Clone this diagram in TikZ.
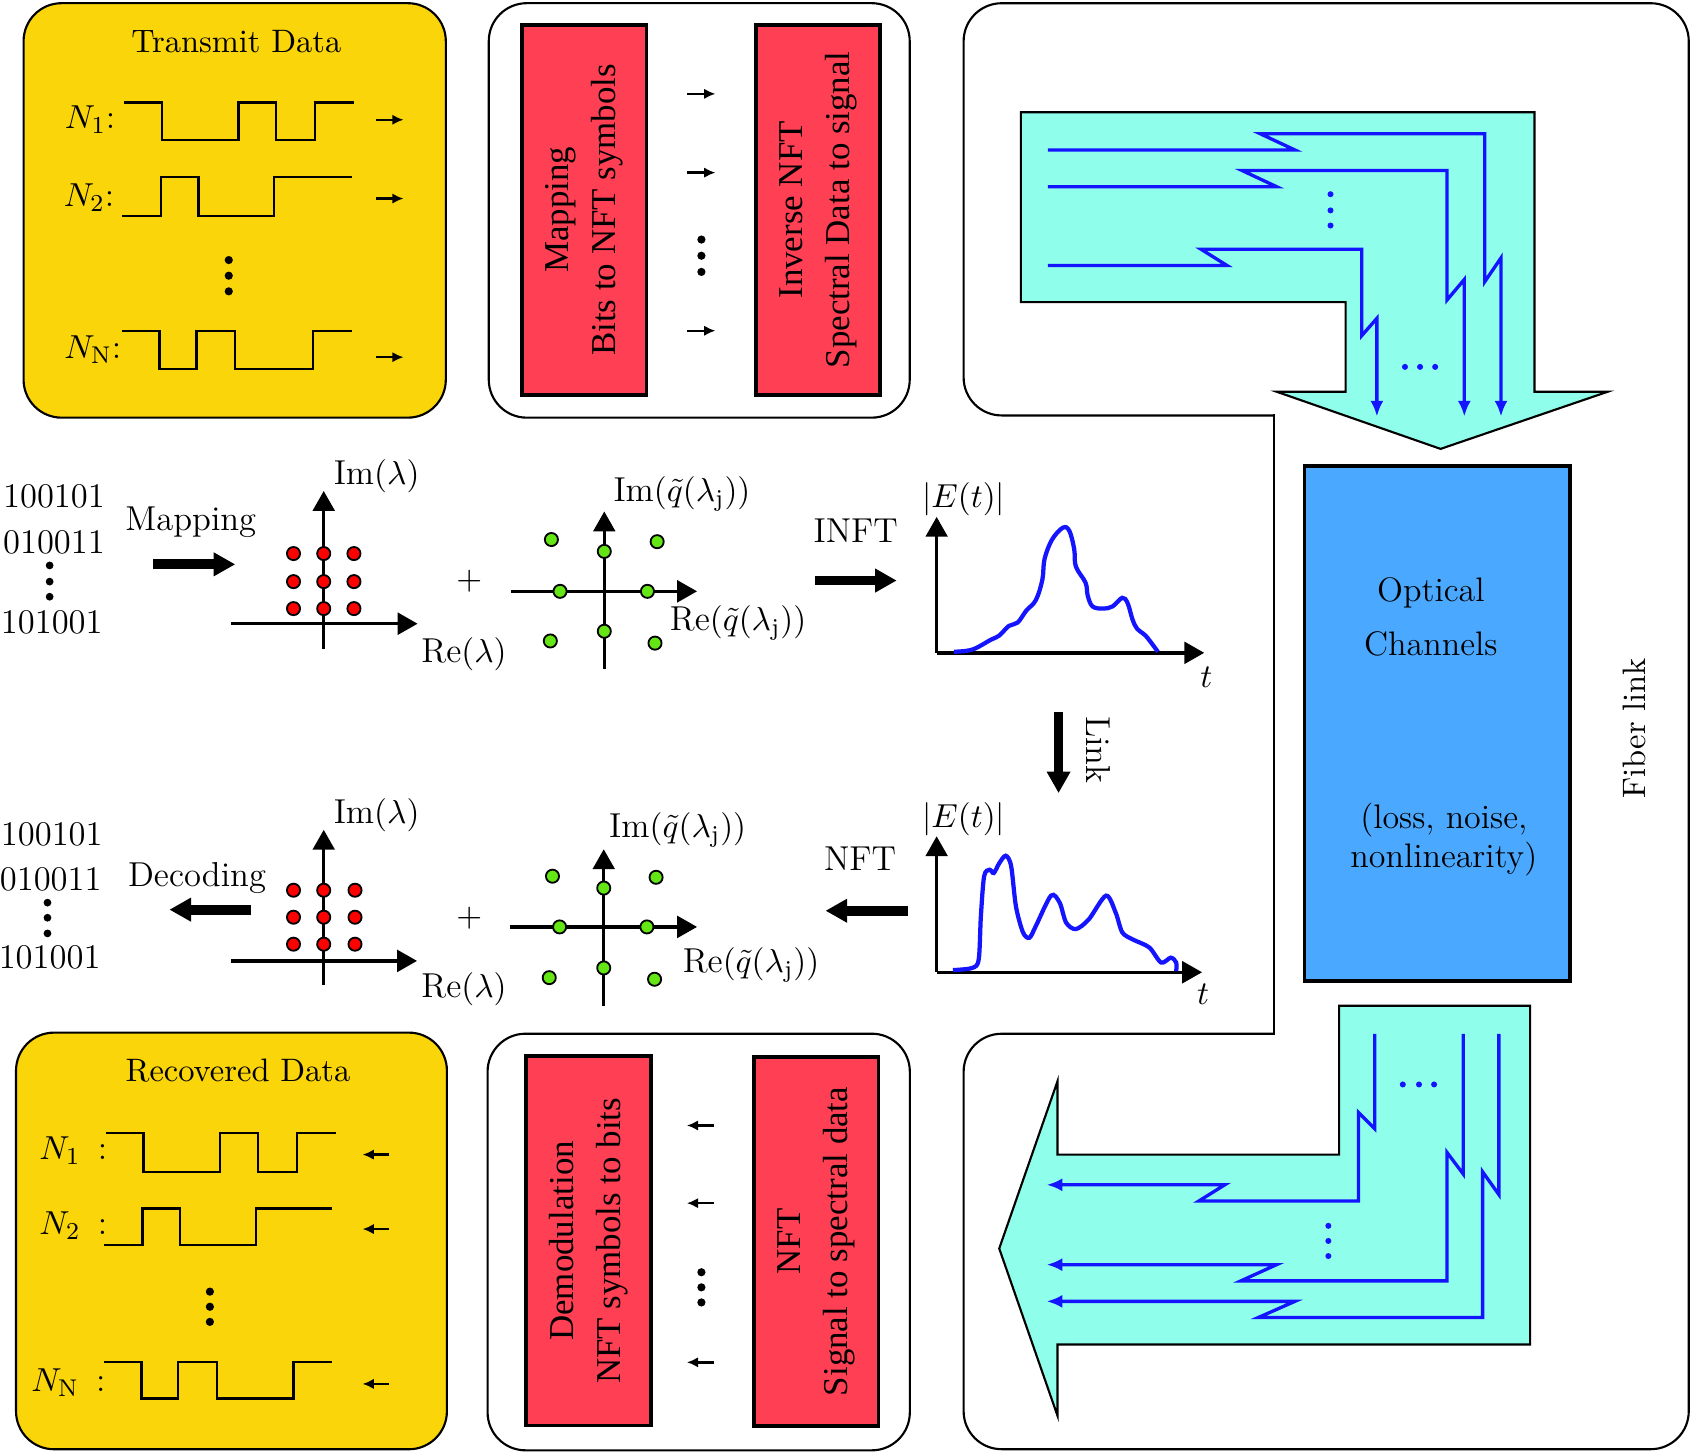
\documentclass[tikz,border=0pt]{standalone}
\usepackage{amsmath, amssymb}
\usepackage{fontspec}
\newfontfamily\timesfont{Liberation Serif}
\usetikzlibrary{arrows.meta,positioning}

\definecolor{gold}{RGB}{250,213,10}
\definecolor{nftred}{RGB}{255,64,84}
\definecolor{aqua}{RGB}{143,255,235}
\definecolor{chanblue}{RGB}{75,168,255}
\definecolor{symgreen}{RGB}{100,230,20}
\definecolor{wire}{RGB}{20,20,255}

\tikzset{
  databox/.style={draw, line width=0.7pt, fill=gold, rounded corners=0.44cm},
  stagebox/.style={draw, line width=0.7pt, fill=white, rounded corners=0.44cm},
  nftbox/.style={draw, line width=1.3pt, fill=nftred, rotate=90, align=center,
    minimum width=4.29cm, minimum height=1.44cm,
    font=\timesfont\fontsize{11.5}{15.5}\selectfont},
  lbl/.style={inner sep=1pt, font=\fontsize{11.4}{13.6}\selectfont},
  title/.style={inner sep=1pt, font=\fontsize{10.7}{12.8}\selectfont},
  wave/.style={line width=0.8pt},
  axis/.style={line width=1.1pt, -{Triangle[length=0.23cm,width=0.25cm]}},
  bigarrow/.style={line width=3.2pt, -{Triangle[length=0.25cm,width=0.26cm]}},
  tinyarrow/.style={line width=0.8pt, -{Latex[length=1.3mm,width=1.2mm]}},
  fiber/.style={draw=wire, line width=1.1pt, -{Latex[length=1.8mm,width=1.5mm]}},
  sym/.style={circle, draw, line width=0.6pt, inner sep=0pt, minimum size=0.152cm},
  pulse/.style={draw=wire, line width=1.4pt},
}

\begin{document}
\begin{tikzpicture}[x=0.0125cm, y=-0.0125cm]
  \useasboundingbox (0,0) rectangle (1568,1346.5);

  % transmitter
  \node (tx) [databox, minimum width=4.89cm, minimum height=4.8cm] at (217.5,195) {};
  \node (txt) [title] at (219,39) {Transmit Data};
  \node (tn1) [lbl] at (83.5,111) {$N_1$:};
  \node (tn2) [lbl] at (82.5,183) {$N_2$:};
  \node (tnn) [lbl] at (86,324) {$N_{\mathrm{N}}$:};
  \draw[wave] (115,95) -- (150,95) -- (150,130) -- (221,130) -- (221,95) -- (256,95)
    -- (256,130) -- (292,130) -- (292,95) -- (328,95);
  \draw[wave] (113,200) -- (149,200) -- (149,164) -- (184,164) -- (184,200) -- (254,200)
    -- (254,164) -- (326,164);
  \draw[wave] (113,307) -- (148,307) -- (148,342) -- (182,342) -- (182,307) -- (218,307)
    -- (218,342) -- (290,342) -- (290,307) -- (326,307);
  \foreach \y in {241,255.5,270} \fill (212,\y) circle (3.8);
  \foreach \y in {111,184,331} \draw[tinyarrow] (348,\y) -- (374,\y);

  \node (txs) [stagebox, minimum width=4.875cm, minimum height=4.8cm] at (648,195) {};
  \node (map) [nftbox] at (541.5,194.5) {Mapping\\Bits to NFT symbols};
  \node (inft) [nftbox] at (758,194.5) {Inverse NFT\\Spectral Data to signal};
  \foreach \y in {87,160,306.5} \draw[tinyarrow] (637,\y) -- (663,\y);
  \foreach \y in {222,237,252} \fill (650,\y) circle (3.8);

  % fiber link
  \draw[line width=0.7pt, rounded corners=0.44cm] (1181,385) -- (893,385) -- (893,3)
    -- (1565,3) -- (1565,1343) -- (893,1343) -- (893,958) -- (1181,958);
  \draw[line width=0.7pt, line cap=rect] (1181,385) -- (1181,958);

  \filldraw[fill=aqua, line width=0.7pt] (946,104) -- (1422,104) -- (1422,363) -- (1490,363)
    -- (1335,416) -- (1183,363) -- (1247,363) -- (1247,280) -- (946,280) -- cycle;
  \draw[fiber] (971,139) -- (1200,139) -- (1168,124) -- (1376,124) -- (1376,261)
    -- (1391,239) -- (1391,386);
  \draw[fiber] (971,173) -- (1183,173) -- (1151,158) -- (1341,158) -- (1341,278)
    -- (1357,259) -- (1357,386);
  \draw[fiber] (971,246) -- (1137,246) -- (1113,231) -- (1262,231) -- (1262,311)
    -- (1276,295) -- (1276,386);
  \foreach \y in {180,195,209} \fill[wire] (1233,\y) circle (2.8);
  \foreach \x in {1302,1316,1330} \fill[wire] (\x,340) circle (2.8);

  \node (chan) [draw, line width=1.2pt, fill=chanblue, minimum width=3.075cm,
    minimum height=5.96cm] at (1332,670.5) {};
  \node (chant) [lbl, align=center, font=\fontsize{11.2}{17.7}\selectfont] at (1326,572)
    {Optical\\Channels};
  \node (chanl) [lbl, align=center, font=\fontsize{11.2}{12.8}\selectfont] at (1338,778)
    {(loss, noise,\\nonlinearity)};
  \node (fib) [title, rotate=90] at (1515,675) {Fiber link};

  \filldraw[fill=aqua, line width=0.7pt] (1241,932) -- (1418,932) -- (1418,1246) -- (980,1246)
    -- (980,1312) -- (926,1157) -- (980,1002) -- (980,1070) -- (1241,1070) -- cycle;
  \draw[fiber] (1274,958) -- (1274,1046) -- (1259,1031) -- (1259,1113) -- (1111,1113)
    -- (1135,1098) -- (970,1098);
  \draw[fiber] (1356,958) -- (1356,1088) -- (1341,1068) -- (1341,1187) -- (1150,1187)
    -- (1183,1172) -- (970,1172);
  \draw[fiber] (1389,958) -- (1389,1107) -- (1374,1086) -- (1374,1221) -- (1166,1221)
    -- (1200,1206) -- (970,1206);
  \foreach \y in {1136,1150,1164} \fill[wire] (1231,\y) circle (2.8);
  \foreach \x in {1300,1315,1329} \fill[wire] (\x,1005) circle (2.8);

  % modulation
  \node (b1) [lbl] at (50,460) {100101};
  \node (b2) [lbl] at (50,503) {010011};
  \foreach \y in {524,539,553} \fill (46,\y) circle (3.6);
  \node (b3) [lbl] at (48,577) {101001};
  \coordinate (m1) at (142,523);
  \coordinate (m2) at (218,523);
  \draw[bigarrow] (m1) -- node[lbl, above=0.22cm, xshift=-0.04cm] {Mapping} (m2);

  \draw[axis] (214,578) -- (387,578);
  \draw[axis] (300,601) -- (300,455);
  \foreach \x in {272,300,328} \foreach \y in {513,539,564} \node[sym, fill=red] at (\x,\y) {};
  \node (im1) [lbl] at (349,441) {$\mathrm{Im}(\lambda)$};
  \node (re1) [lbl] at (430,606) {$\mathrm{Re}(\lambda)$};
  \node (plus1) [lbl] at (435,539) {$+$};

  \draw[axis] (474,548) -- (646,548);
  \draw[axis] (560,620) -- (560,474);
  \foreach \p in {(511,500),(609,502),(560,511),(519,548),(600,548),(560,585),(510,594),(607,596)}
    \node[sym, fill=symgreen] at \p {};
  \node (im2) [lbl] at (632,458) {$\mathrm{Im}(\tilde{q}(\lambda_{\mathrm{j}}))$};
  \node (re2) [lbl] at (684,577) {$\mathrm{Re}(\tilde{q}(\lambda_{\mathrm{j}}))$};

  \coordinate (i1) at (755,538);
  \coordinate (i2) at (831,538);
  \draw[bigarrow] (i1) -- node[lbl, above=0.35cm] {INFT} (i2);

  \draw[axis] (868,605) -- (1116,605);
  \draw[axis] (868,605) -- (868,479);
  \node (et1) [lbl] at (893,463) {$|E(t)|$};
  \node (t1) [lbl] at (1118,628) {$t$};
  \draw[pulse] plot[smooth, tension=0.6] coordinates {(884,604) (901,602) (918,593) (926,589)
    (935,580) (943,577) (951,566) (960,556) (966,537) (968,518) (975,500) (985,489) (991,492)
    (995.5,509) (997,525) (1006,540) (1008,552) (1012.5,562) (1022,564) (1031,562) (1040,554)
    (1045,559) (1049.5,574) (1054,583) (1062,589.5) (1073,604)};

  \coordinate (l1) at (981,660);
  \coordinate (l2) at (981,735);
  \draw[bigarrow] (l1) -- (l2);
  \node (lnk) [lbl, rotate=-90] at (1018,695) {Link};

  % demodulation
  \draw[axis] (868,901) -- (1114,901);
  \draw[axis] (868,901) -- (868,775);
  \node (et2) [lbl] at (893,759) {$|E(t)|$};
  \node (t2) [lbl] at (1115,921) {$t$};
  \draw[pulse] plot[smooth, tension=0.5] coordinates {(883,899) (901,897) (907,889) (909,849)
    (912,812) (917,806) (921,809) (926,800) (932,793) (937,802.5) (941.5,840) (948,864)
    (954,869) (960,858) (974,830) (982,836.5) (988,855) (997,861) (1009,852) (1025,830)
    (1034,846) (1040,864) (1049.5,870.5) (1065,878) (1076,892) (1085,887.5) (1090,892)
    (1090,900)};

  \coordinate (d1) at (841,844);
  \coordinate (d2) at (765,844);
  \draw[bigarrow] (d1) -- node[lbl, above=0.37cm, xshift=-0.075cm] {NFT} (d2);

  \draw[axis] (473,859) -- (646,859);
  \draw[axis] (559.5,932) -- (559.5,787);
  \foreach \p in {(512,812),(608,813),(559.5,823),(518.6,859),(599.5,859),(559.5,897),(509,906),(606.6,907.5)}
    \node[sym, fill=symgreen] at \p {};
  \node (im4) [lbl] at (628,769) {$\mathrm{Im}(\tilde{q}(\lambda_{\mathrm{j}}))$};
  \node (re4) [lbl] at (696,894) {$\mathrm{Re}(\tilde{q}(\lambda_{\mathrm{j}}))$};
  \node (plus2) [lbl] at (435,851) {$+$};

  \draw[axis] (214,890.5) -- (386.5,890.5);
  \draw[axis] (300,913) -- (300,769);
  \foreach \x in {272,300,329} \foreach \y in {825,850,875} \node[sym, fill=red] at (\x,\y) {};
  \node (im3) [lbl] at (349,755) {$\mathrm{Im}(\lambda)$};
  \node (re3) [lbl] at (430,917) {$\mathrm{Re}(\lambda)$};

  \coordinate (c1) at (233,843);
  \coordinate (c2) at (157,843);
  \draw[bigarrow] (c1) -- node[lbl, above=0.1cm, xshift=-0.155cm] {Decoding} (c2);
  \node (e1) [lbl] at (48,773) {100101};
  \node (e2) [lbl] at (47,815) {010011};
  \foreach \y in {836.5,850.5,865} \fill (44,\y) circle (3.6);
  \node (e3) [lbl] at (46,887.5) {101001};

  % receiver
  \node (rx) [databox, minimum width=4.99cm, minimum height=4.825cm] at (214.5,1150) {};
  \node (rxt) [title] at (220.5,992.5) {Recovered Data};
  \node (rn1) [lbl] at (68,1066) {$N_1$\enspace:};
  \node (rn2) [lbl] at (68,1136) {$N_2$\enspace:};
  \node (rnn) [lbl] at (63.5,1281) {$N_{\mathrm{N}}$\enspace:};
  \draw[wave] (98,1050) -- (133,1050) -- (133,1086) -- (204,1086) -- (204,1050) -- (239,1050)
    -- (239,1086) -- (275,1086) -- (275,1050) -- (311,1050);
  \draw[wave] (96,1154) -- (132,1154) -- (132,1120) -- (167,1120) -- (167,1154) -- (237,1154)
    -- (237,1120) -- (308,1120);
  \draw[wave] (96,1262) -- (131,1262) -- (131,1296) -- (165,1296) -- (165,1262) -- (201,1262)
    -- (201,1296) -- (272,1296) -- (272,1262) -- (308,1262);
  \foreach \y in {1197,1211,1225} \fill (194.5,\y) circle (3.8);
  \foreach \y in {1070,1139,1282.5} \draw[tinyarrow] (360.5,\y) -- (336,\y);

  \node (rxs) [stagebox, minimum width=4.89cm, minimum height=4.825cm] at (647.5,1151) {};
  \node (dem) [nftbox, minimum width=4.275cm] at (545.5,1150) {Demodulation\\NFT symbols to bits};
  \node (nft) [nftbox, minimum width=4.275cm] at (756.5,1150.5) {NFT\\Signal to spectral data};
  \foreach \y in {1043,1115,1262.5} \draw[tinyarrow] (662,\y) -- (636.5,\y);
  \foreach \y in {1179,1193,1207} \fill (650,\y) circle (3.8);
\end{tikzpicture}
\end{document}
